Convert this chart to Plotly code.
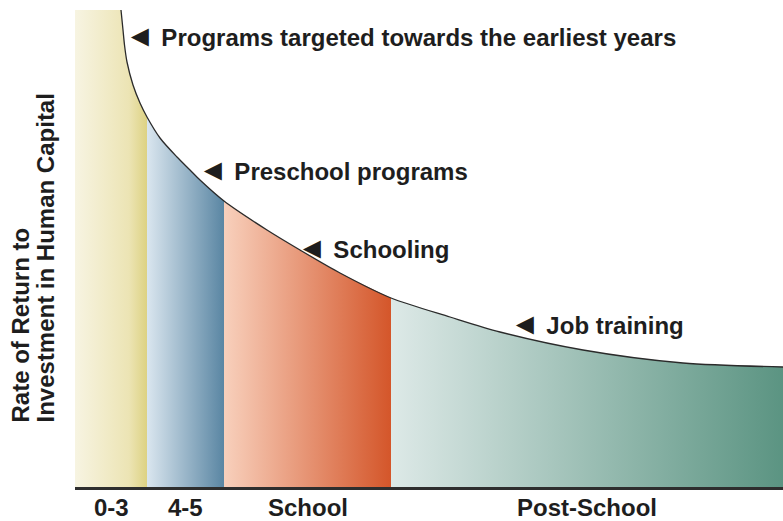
import plotly.graph_objects as go

# Curve: rate of return vs. age position
curve_x = [46, 48, 49.5, 52, 58, 65, 72, 85, 102, 115, 125, 149, 192, 225, 265, 316, 375, 425, 508, 608, 708]
curve_y = [477, 457, 442, 425, 402, 384, 370, 349, 330, 317, 307, 286, 257, 237, 214, 189, 170, 155, 137, 124, 120]
top_y = 477

# Age bands
band_labels = ["0-3", "4-5", "School", "Post-School"]
band_edges = [0, 72, 149, 316, 708]
band_colors = [
    [[0, "#f7f4e2"], [0.75, "#ece4b4"], [1, "#ddd283"]],
    [[0, "#dae6ef"], [1, "#5a86a3"]],
    [[0, "#f8d0bc"], [1, "#d4562a"]],
    [[0, "#dde9e7"], [1, "#5b9482"]],
]

# Curve annotations
notes = [
    "Programs targeted towards the earliest years",
    "Preschool programs",
    "Schooling",
    "Job training",
]

FONT = "Liberation Sans, Arial, sans-serif"
TXT = "#1e1e1e"
FS = 24
XMAX, YMAX = 708, 487


def px(xp):  # pixel x -> paper
    return (xp - 75) / XMAX


def py(yp):  # pixel y -> paper
    return (YMAX - yp) / YMAX


def interp(x):
    for i in range(len(curve_x) - 1):
        if curve_x[i] <= x <= curve_x[i + 1]:
            t = (x - curve_x[i]) / (curve_x[i + 1] - curve_x[i])
            return curve_y[i] + t * (curve_y[i + 1] - curve_y[i])
    return curve_y[-1]


fig = go.Figure()

# flat top part of first band
fig.add_trace(go.Scatter(
    x=[band_edges[0], curve_x[0]], y=[top_y, top_y], mode="lines", fill="tozeroy",
    line=dict(width=0),
    fillgradient=dict(type="horizontal", colorscale=band_colors[0],
                      start=band_edges[0], stop=band_edges[1]),
    hoverinfo="skip", showlegend=False,
))

for i, lab in enumerate(band_labels):
    x0, x1 = band_edges[i], band_edges[i + 1]
    xs = [x for x in curve_x if x0 <= x <= x1]
    ys = [interp(x) for x in xs]
    fig.add_trace(go.Scatter(
        x=xs, y=ys, mode="lines", fill="tozeroy",
        line=dict(width=0, shape="spline", smoothing=0.8),
        fillgradient=dict(type="horizontal", colorscale=band_colors[i],
                          start=x0, stop=x1),
        hoverinfo="skip", showlegend=False,
    ))

fig.add_trace(go.Scatter(
    x=curve_x, y=curve_y, mode="lines",
    line=dict(color="#2b2b2b", width=1.3, shape="spline", smoothing=0.8),
    hoverinfo="skip", showlegend=False,
))

note_px = [(123, 35), (196, 170), (295, 247), (508, 323)]
for t, (xp, yp) in zip(notes, note_px):
    fig.add_annotation(x=px(xp), y=py(yp), xref="paper", yref="paper",
                       text="<span style='font-size:30px'>◄</span> " + t,
                       showarrow=False, xanchor="left", yanchor="middle",
                       font=dict(family=FONT, size=FS, color=TXT, weight="bold"))

for i, lab in enumerate(band_labels):
    cx = (band_edges[i] + band_edges[i + 1]) / 2 / XMAX
    fig.add_annotation(x=cx, y=py(508), xref="paper", yref="paper", text=lab,
                       showarrow=False, xanchor="center", yanchor="middle",
                       font=dict(family=FONT, size=FS, color=TXT, weight="bold"))

for t, xp in zip(["Rate of Return to", "Investment in Human Capital"], [20, 45]):
    fig.add_annotation(x=px(xp), y=py(425), xref="paper", yref="paper", text=t, textangle=-90,
                       showarrow=False, xanchor="center", yanchor="bottom",
                       font=dict(family=FONT, size=FS, color=TXT, weight="bold"))

fig.update_layout(
    width=783, height=521,
    margin=dict(l=75, r=0, t=0, b=34),
    paper_bgcolor="white", plot_bgcolor="white",
    xaxis=dict(range=[0, XMAX], showgrid=False, zeroline=False, showticklabels=False,
               ticks="", showline=True, linecolor="#2e2e2e", linewidth=2.5, fixedrange=True),
    yaxis=dict(range=[0, YMAX], showgrid=False, zeroline=False, showticklabels=False,
               ticks="", showline=False, fixedrange=True),
)

fig.write_html("out.html", config={"displayModeBar": False},
               post_script="document.body.style.margin='0';document.body.style.overflow='hidden';")
